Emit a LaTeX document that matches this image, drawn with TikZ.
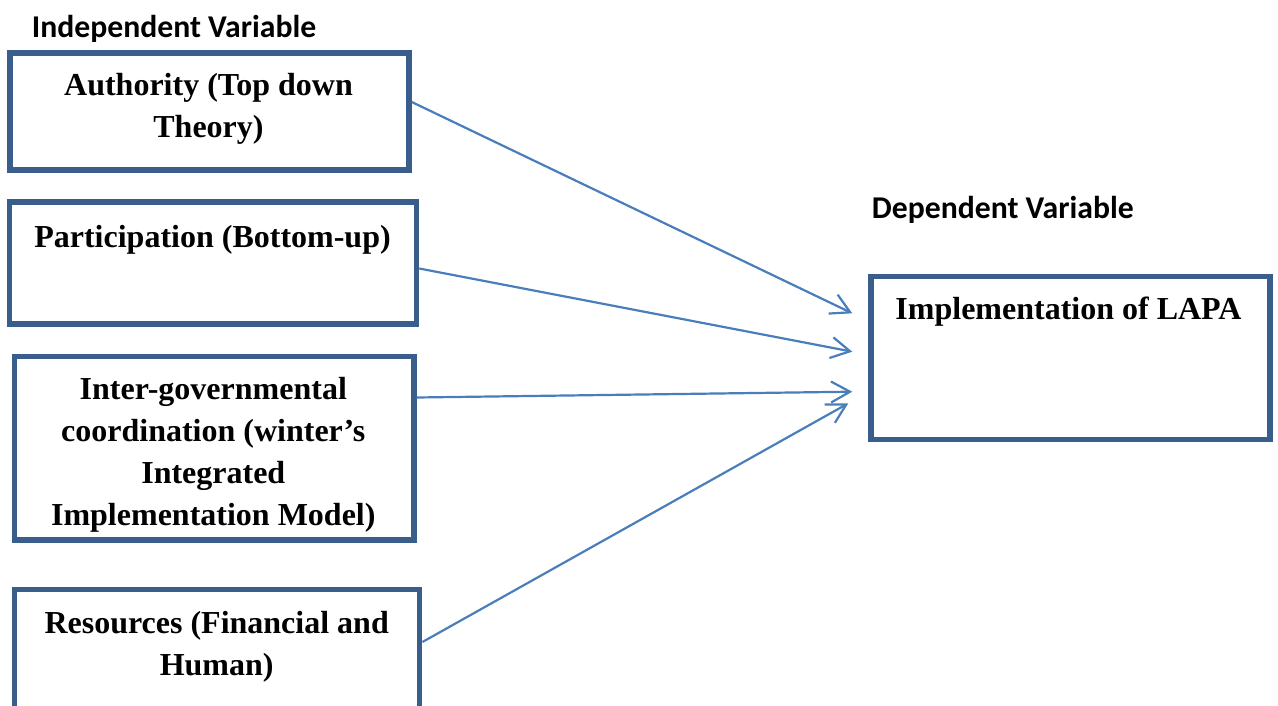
\documentclass[tikz,border=0pt]{standalone}
\usepackage{fontspec}
\setmainfont{Liberation Serif}
\newfontfamily\headfont{Carlito}
\usetikzlibrary{arrows.meta,calc}

\definecolor{boxblue}{RGB}{58,94,140}
\definecolor{linkblue}{RGB}{74,126,187}

\tikzset{
  varbox/.style={draw=boxblue, line width=5.5pt, rectangle, inner sep=0pt,
    fill=white},
  boxtext/.style={anchor=north, inner sep=0pt, align=center,
    font=\bfseries\fontsize{32}{42}\selectfont},
  headtext/.style={anchor=base west, inner sep=0pt,
    font=\headfont\bfseries\fontsize{31.7}{38}\selectfont},
  link/.style={draw=linkblue, line width=2.2pt,
    -{Straight Barb[length=19pt,width=21pt,line width=2.2pt]}},
}
\newcommand{\firstline}{\rule{0pt}{30pt}}

\begin{document}
\begin{tikzpicture}[x=1pt,y=-1pt]
  \useasboundingbox (0,0) rectangle (1278,706);
  \clip (0,0) rectangle (1278,706);

  % headings
  \node[headtext] (hind) at (31.7,37.5) {Independent Variable};
  \node[headtext] (hdep) at (871.7,218.2) {Dependent Variable};

  % independent variables
  \node[varbox, minimum width=399pt, minimum height=117pt] (b1) at (209.5,111.5) {};
  \node[boxtext] (t1) at (208.5,65.5) {\firstline Authority (Top down\\Theory)};

  \node[varbox, minimum width=406.8pt, minimum height=121.7pt] (b2) at (213.1,262.9) {};
  \node[boxtext] (t2) at (212.5,217) {\firstline Participation (Bottom-up)};

  \node[varbox, minimum width=399.3pt, minimum height=183.7pt] (b3) at (214.35,448.15) {};
  \node[boxtext] (t3) at (213.3,369.5) {\firstline Inter-governmental\\coordination (winter’s\\Integrated\\Implementation Model)};

  \node[varbox, minimum width=405pt, minimum height=125.3pt] (b4) at (217.2,652.35) {};
  \node[boxtext] (t4) at (216.7,603) {\firstline Resources (Financial and\\Human)};

  % dependent variable
  \node[varbox, minimum width=399pt, minimum height=163pt] (br) at (1070.5,358.2) {};
  \node[boxtext] (tr) at (1068.5,289.3) {\firstline Implementation of LAPA};

  % arrow ends in front of the dependent variable
  \coordinate (p1) at (852.3,313.3);
  \coordinate (p2) at (852.3,351.7);
  \coordinate (p3) at (852.3,391.7);
  \coordinate (p4) at (848.3,403.3);

  \draw[link] ($(b1.east)+(0,-9.5)$) -- (p1);
  \draw[link] ($(b2.east)+(0,5.6)$) -- (p2);
  \draw[link] ($(b3.east)+(0,-50.65)$) -- (p3);
  \draw[link] ($(b4.east)+(0,-10.35)$) -- (p4);
\end{tikzpicture}
\end{document}
